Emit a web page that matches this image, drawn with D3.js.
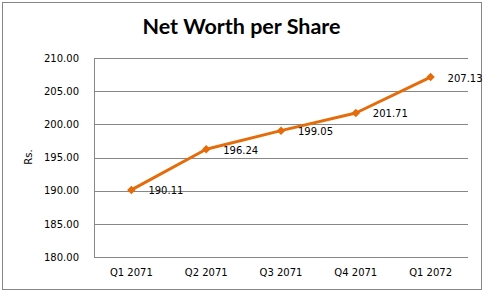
<!DOCTYPE html>
<html><head><meta charset="utf-8">
<script src="https://cdn.jsdelivr.net/npm/d3@7"></script>
<style>body{margin:0;background:#fff}svg{display:block}</style>
</head><body>
<script>
const categories = ["Q1 2071","Q2 2071","Q3 2071","Q4 2071","Q1 2072"];
const values = [190.11, 196.24, 199.05, 201.71, 207.13];
const yTicks = [180,185,190,195,200,205,210];
const title = "Net Worth per Share";
const yTitle = "Rs.";

const W = 485, H = 293;
const m = {left:94, right:17, top:58, bottom:36};
const svg = d3.select("body").append("svg").attr("width",W).attr("height",H);
svg.append("rect").attr("x",2.5).attr("y",2.5).attr("width",479).attr("height",287)
  .attr("fill","#fff").attr("stroke","#868686").attr("stroke-width",1);

const x = d3.scaleBand().domain(categories).range([m.left, W-m.right]);
const y = d3.scaleLinear().domain([180,210]).range([H-m.bottom, m.top]);

const grid = svg.append("g");
grid.selectAll("line").data(yTicks).join("line")
  .attr("x1",m.left).attr("x2",W-m.right)
  .attr("y1",d=>Math.round(y(d))+0.5).attr("y2",d=>Math.round(y(d))+0.5)
  .attr("stroke","#878787").attr("stroke-width",1);
svg.append("line").attr("x1",m.left+0.5).attr("x2",m.left+0.5)
  .attr("y1",Math.round(y(210))+0.5).attr("y2",Math.round(y(180))+0.5)
  .attr("stroke","#878787");

const yAxis = d3.axisLeft(y).tickValues(yTicks).tickFormat(d3.format(".2f")).tickSize(0).tickPadding(15);
const gy = svg.append("g").attr("transform",`translate(${m.left},0)`).call(yAxis);
gy.select(".domain").remove();
gy.selectAll("text").attr("font-family","DejaVu Sans").attr("font-size",10).attr("fill","#000");

const xAxis = d3.axisBottom(x).tickSize(0).tickPadding(12);
const gx = svg.append("g").attr("transform",`translate(0,${H-m.bottom})`).call(xAxis);
gx.select(".domain").remove();
gx.selectAll("text").attr("font-family","DejaVu Sans").attr("font-size",10).attr("fill","#000");

svg.append("text").attr("x",241.5).attr("y",34).attr("text-anchor","middle")
  .attr("font-family","Lato").attr("font-weight","bold").attr("font-size",21.5).text(title);

svg.append("text").attr("transform",`translate(32,157) rotate(-90)`).attr("text-anchor","middle")
  .attr("font-family","DejaVu Sans").attr("font-size",10).text(yTitle);

const cx = d => x(d) + x.bandwidth()/2;
const line = d3.line().x((d,i)=>cx(categories[i])).y(d=>y(d));
svg.append("path").datum(values).attr("d",line).attr("fill","none")
  .attr("stroke","#E46C0A").attr("stroke-width",3).attr("stroke-linejoin","round");

const diamond = d3.symbol().type(d3.symbolSquare).size(36);
svg.selectAll(".mk").data(values).join("path").attr("class","mk")
  .attr("d",diamond).attr("transform",(d,i)=>`translate(${cx(categories[i])},${y(d)}) rotate(45)`)
  .attr("fill","#E46C0A");

svg.selectAll(".lbl").data(values).join("text").attr("class","lbl")
  .attr("x",(d,i)=>cx(categories[i])+17).attr("y",d=>y(d)+4.5)
  .attr("font-family","DejaVu Sans").attr("font-size",10).text(d=>d3.format(".2f")(d));
</script>
</body></html>
